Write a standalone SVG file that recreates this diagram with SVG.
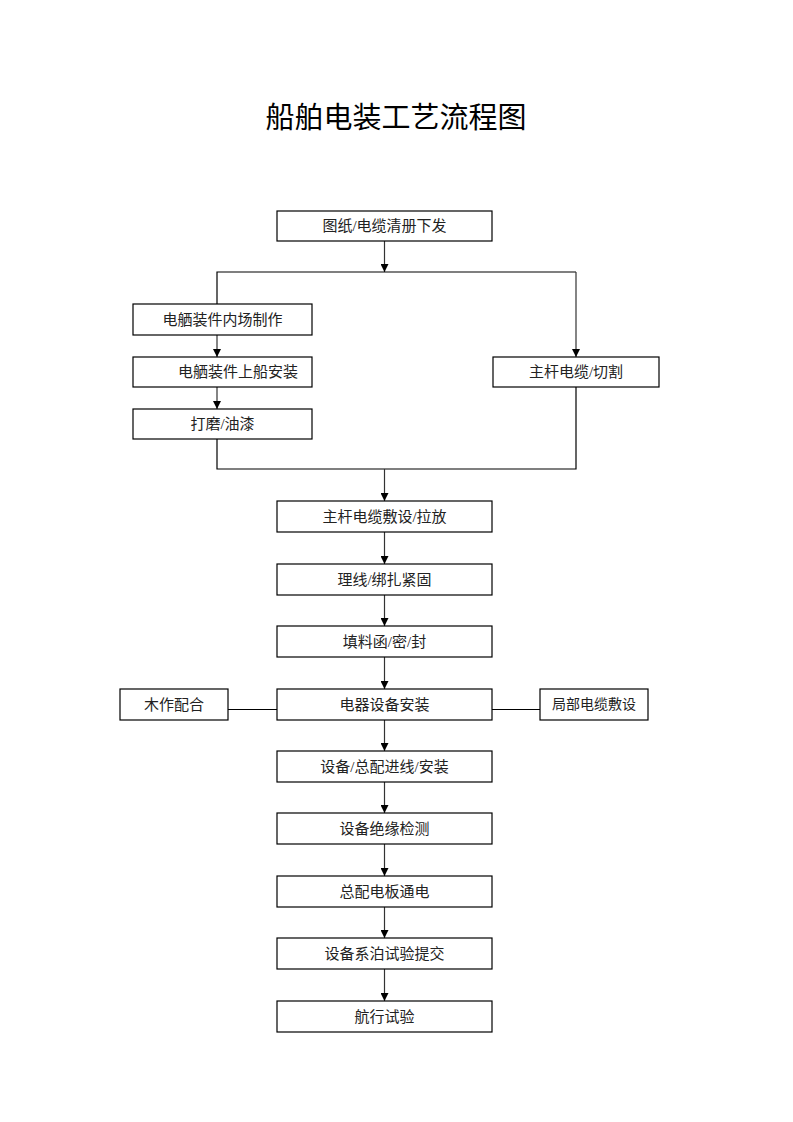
<svg xmlns="http://www.w3.org/2000/svg" width="793" height="1122" viewBox="0 0 793 1122">
<style>
.box{fill:#fff;stroke:#000;stroke-width:1.2}
.t{font-family:"Liberation Serif","Noto Sans CJK SC",serif;font-size:15px;fill:#222;text-anchor:middle;dominant-baseline:central}
.s{font-size:14px}
.title{font-family:"Liberation Serif","Noto Sans CJK SC",serif;font-size:29px;fill:#000;text-anchor:middle;dominant-baseline:central}
.c{fill:none;stroke:#000;stroke-width:1.2}
.ca{fill:none;stroke:#333;stroke-width:1.2;marker-end:url(#ar)}
</style>
<defs>
<marker id="ar" viewBox="0 0 10 10" refX="10" refY="5" markerWidth="8" markerHeight="8" markerUnits="userSpaceOnUse" orient="auto">
<path d="M0,0 L10,5 L0,10 z" fill="#000"/>
</marker>
</defs>
<rect width="793" height="1122" fill="#fff"/>
<text class="title" x="396" y="118">船舶电装工艺流程图</text>
<g id="connectors">
<line class="ca" x1="384.5" y1="241" x2="384.5" y2="272"/>
<polyline class="c" points="217,304 217,272 576,272"/>
<line class="ca" x1="576" y1="272" x2="576" y2="357"/>
<line class="ca" x1="217" y1="335" x2="217" y2="357"/>
<line class="ca" x1="217" y1="387" x2="217" y2="409"/>
<polyline class="c" points="217,439 217,469 576,469 576,387"/>
<line class="ca" x1="384.5" y1="469" x2="384.5" y2="501"/>
<line class="ca" x1="384.5" y1="532" x2="384.5" y2="564"/>
<line class="ca" x1="384.5" y1="595" x2="384.5" y2="626"/>
<line class="ca" x1="384.5" y1="657" x2="384.5" y2="689"/>
<line class="ca" x1="384.5" y1="720" x2="384.5" y2="751"/>
<line class="ca" x1="384.5" y1="782" x2="384.5" y2="813"/>
<line class="ca" x1="384.5" y1="844" x2="384.5" y2="876"/>
<line class="ca" x1="384.5" y1="907" x2="384.5" y2="938"/>
<line class="ca" x1="384.5" y1="969" x2="384.5" y2="1001"/>
<line class="c" x1="228" y1="709.5" x2="277" y2="709.5"/>
<line class="c" x1="492" y1="709.5" x2="540" y2="709.5"/>
</g>
<g id="n1"><rect class="box" x="277" y="211" width="215" height="30"/><text class="t" x="384.5" y="226">图纸/电缆清册下发</text></g>
<g id="n2"><rect class="box" x="133" y="304" width="179" height="31"/><text class="t" x="222.5" y="319.5">电舾装件内场制作</text></g>
<g id="n3"><rect class="box" x="133" y="357" width="179" height="30"/><text class="t" x="238" y="372">电舾装件上船安装</text></g>
<g id="n4"><rect class="box" x="133" y="409" width="179" height="30"/><text class="t" x="222.5" y="424">打磨/油漆</text></g>
<g id="n5"><rect class="box" x="493" y="357" width="166" height="30"/><text class="t" x="576" y="372">主杆电缆/切割</text></g>
<g id="n6"><rect class="box" x="277" y="501" width="215" height="31"/><text class="t" x="384.5" y="516.5">主杆电缆敷设/拉放</text></g>
<g id="n7"><rect class="box" x="277" y="564" width="215" height="31"/><text class="t" x="384.5" y="579.5">理线/绑扎紧固</text></g>
<g id="n8"><rect class="box" x="277" y="626" width="215" height="31"/><text class="t" x="384.5" y="641.5">填料函/密/封</text></g>
<g id="n9"><rect class="box" x="277" y="689" width="215" height="31"/><text class="t" x="384.5" y="704.5">电器设备安装</text></g>
<g id="n10"><rect class="box" x="120" y="689" width="108" height="31"/><text class="t" x="174" y="704.5">木作配合</text></g>
<g id="n11"><rect class="box" x="540" y="689" width="108" height="31"/><text class="t s" x="594" y="704.5">局部电缆敷设</text></g>
<g id="n12"><rect class="box" x="277" y="751" width="215" height="31"/><text class="t" x="384.5" y="766.5">设备/总配进线/安装</text></g>
<g id="n13"><rect class="box" x="277" y="813" width="215" height="31"/><text class="t" x="384.5" y="828.5">设备绝缘检测</text></g>
<g id="n14"><rect class="box" x="277" y="876" width="215" height="31"/><text class="t" x="384.5" y="891.5">总配电板通电</text></g>
<g id="n15"><rect class="box" x="277" y="938" width="215" height="31"/><text class="t" x="384.5" y="953.5">设备系泊试验提交</text></g>
<g id="n16"><rect class="box" x="277" y="1001" width="215" height="31"/><text class="t" x="384.5" y="1016.5">航行试验</text></g>
</svg>
